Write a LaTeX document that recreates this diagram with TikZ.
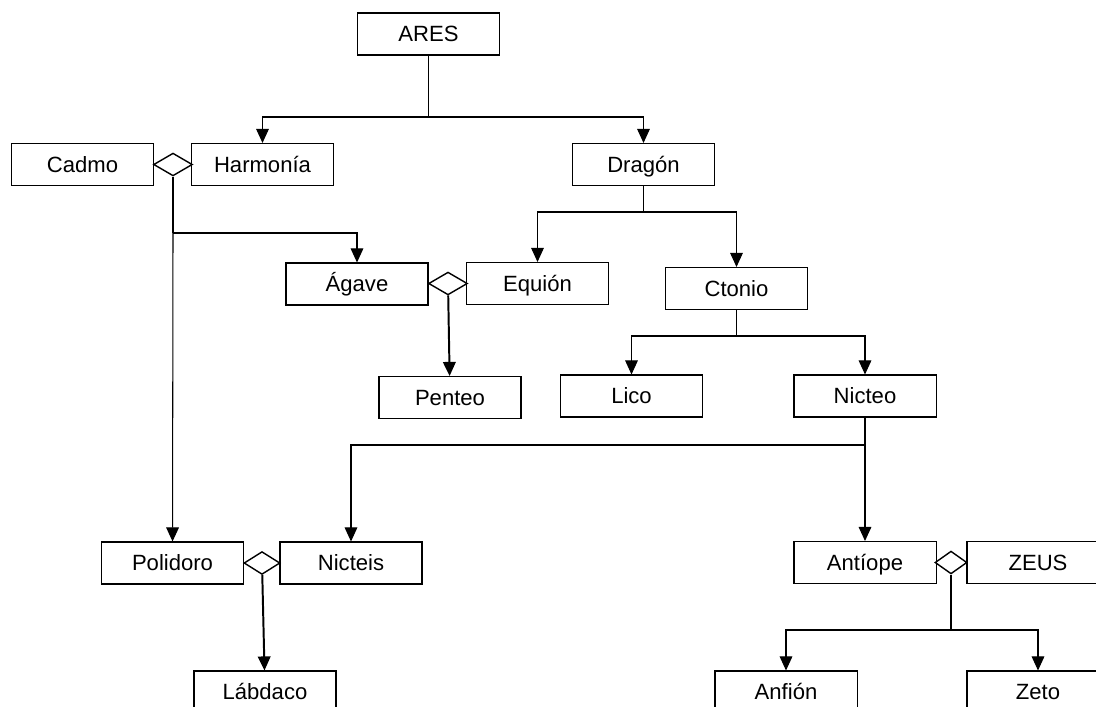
\documentclass[tikz,border=0pt]{standalone}
\usepackage{fontspec}
\setmainfont{Liberation Sans}
\usetikzlibrary{shapes.geometric, arrows.meta, positioning}

\begin{document}
\begin{tikzpicture}[x=0.025cm, y=-0.025cm, >={Triangle[width=9pt,length=10pt]}, line width=0.75pt, font=\fontsize{15.7}{18}\selectfont, box/.style={draw, line width=0.75pt, fill=white, align=center, minimum width=3.55cm, minimum height=1.05cm, inner sep=0pt, text height=11.2pt, text depth=0pt}, union/.style={draw, diamond, line width=1pt, fill=white, minimum width=0.97cm, minimum height=0.57cm, inner sep=0pt}, stem/.style={line width=1.4pt}]
\useasboundingbox (0,0) rectangle (1096,706);
\clip (0,0) rectangle (1096,706);
% personajes
\node[box] (ares) at (428.5,34) {ARES};
\node[box] (cadmo) at (82.5,164.5) {Cadmo};
\node[box] (harmonia) at (262.5,164.5) {Harmonía};
\node[box] (dragon) at (643.5,164.5) {Dragón};
\node[box] (agave) at (357,284) {Ágave};
\node[box] (equion) at (537.5,283.5) {Equión};
\node[box] (ctonio) at (736.5,288.5) {Ctonio};
\node[box] (penteo) at (450,397.5) {Penteo};
\node[box] (lico) at (631.5,396) {Lico};
\node[box] (nicteo) at (865,396) {Nicteo};
\node[box] (polidoro) at (172.5,563) {Polidoro};
\node[box] (nicteis) at (351,563) {Nicteis};
\node[box] (antiope) at (865,562.5) {Antíope};
\node[box] (zeus) at (1038,562.5) {ZEUS};
\node[box] (labdaco) at (265,692) {Lábdaco};
\node[box] (anfion) at (786,692) {Anfión};
\node[box] (zeto) at (1038,692) {Zeto};
% uniones
\node[union] (u1) at (173,164.5) {};
\node[union] (u2) at (448,283.5) {};
\node[union, minimum width=0.9cm] (u3) at (262,563) {};
\node[union, minimum width=0.8cm] (u4) at (951,562.5) {};
% puntos de reparto
\coordinate (j1) at (428.5,117);
\coordinate (j2) at (173,233);
\coordinate (j3) at (643.5,212);
\coordinate (j4) at (736.5,336);
\coordinate (j5) at (865,445);
\coordinate (j6) at (951,630);
% lineas
\draw (ares) -- (j1);
\draw[->] (j1) -| (harmonia);
\draw[->] (j1) -| (dragon);
\draw[stem] (u1) -- (j2);
\draw[->] (j2) -| (agave);
\draw[->] (j2) -- (polidoro);
\draw (dragon) -- (j3);
\draw[->] (j3) -| (equion);
\draw[->] (j3) -| (ctonio);
\draw[stem, ->] (u2) -- (penteo);
\draw (ctonio) -- (j4);
\draw[->] (j4) -| (lico);
\draw[->] (j4) -| (nicteo);
\draw (nicteo) -- (j5);
\draw[->] (j5) -| (nicteis);
\draw[->] (j5) -- (antiope);
\draw[stem, ->] (u3) -- (labdaco);
\draw[stem] (u4) -- (j6);
\draw[->] (j6) -| (anfion);
\draw[->] (j6) -| (zeto);
\end{tikzpicture}
\end{document}
